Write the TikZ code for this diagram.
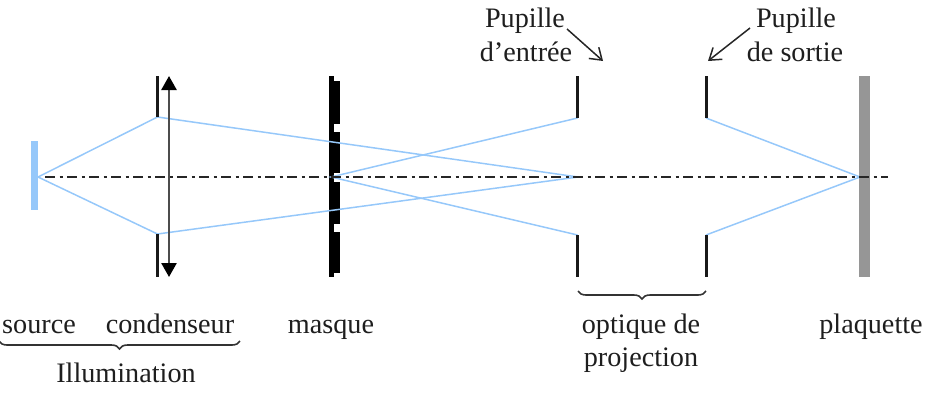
\documentclass[tikz,border=0pt]{standalone}
\usepackage{fontspec}
\setmainfont{Liberation Serif}
\usetikzlibrary{arrows.meta,decorations.pathreplacing}
\definecolor{raycol}{RGB}{150,200,250}
\definecolor{txtcol}{RGB}{30,30,30}
\definecolor{platecol}{RGB}{150,150,150}
\tikzset{
  lbl/.style={inner sep=0pt,font=\fontsize{28.2}{30}\selectfont,text=txtcol,anchor=base},
  ray/.style={raycol,line width=1.5pt},
  stopbar/.style={line width=3pt,black!90},
  axisline/.style={line width=1.8pt,black!85,dash pattern=on 10pt off 4.5pt on 3pt off 4.5pt},
  callout/.style={line width=1.5pt,black!85,-{Straight Barb[length=11pt,width=15pt,line width=1.5pt]}},
  lenstip/.tip={Triangle[length=14pt,width=15pt,color=black]},
  lensarrow/.style={line width=2.6pt,black!70,lenstip-lenstip},
  bracedn/.style={line width=1.6pt,black!80,decorate,decoration={brace,mirror,amplitude=8pt}}
}
\begin{document}
\begin{tikzpicture}[x=1pt,y=-1pt]
\useasboundingbox (0,0) rectangle (933,400);
% named coordinates
\coordinate (srcC) at (38,177);
\coordinate (axA) at (45,177);
\coordinate (axB) at (888,177);
\coordinate (condT) at (157.5,117);
\coordinate (condB) at (157.5,234);
\coordinate (condTT) at (157.5,76);
\coordinate (condBB) at (157.5,277);
\coordinate (lensT) at (169,76);
\coordinate (lensB) at (169,277);
\coordinate (maskC) at (331,177);
\coordinate (focus) at (578,177);
\coordinate (pinT) at (577.5,118);
\coordinate (pinB) at (577.5,235);
\coordinate (pinTT) at (577.5,76);
\coordinate (pinBB) at (577.5,277);
\coordinate (poutT) at (706,118);
\coordinate (poutB) at (706,235);
\coordinate (poutTT) at (706,76);
\coordinate (poutBB) at (706,277);
\coordinate (wafC) at (860,177);
\coordinate (c1a) at (567,29);
\coordinate (c1b) at (603,61);
\coordinate (c2a) at (750,28);
\coordinate (c2b) at (708,61);
\coordinate (brA) at (578,291);
\coordinate (brB) at (706,291);
\coordinate (brC) at (-1,341);
\coordinate (brD) at (240,341);
% source, wafer
\fill[raycol] (31,141) rectangle (38,210);
\fill[platecol] (859,76) rectangle (870,277);
% mask
\fill[black] (328.5,76) rectangle (334,277);
\fill[black] (334,81) rectangle (340,124);
\fill[black] (334,132) rectangle (340,173);
\fill[black] (334,182) rectangle (340,224);
\fill[black] (334,232) rectangle (340,273);
% rays
\draw[ray] (srcC) -- (condT) -- (focus);
\draw[ray] (srcC) -- (condB) -- (focus);
\draw[ray] (pinT) -- (maskC) -- (pinB);
\draw[ray] (poutT) -- (wafC) -- (poutB);
% axis
\draw[axisline] (axA) -- (axB);
% stops
\draw[stopbar] (condTT) -- (condT);
\draw[stopbar] (condB) -- (condBB);
\draw[stopbar] (pinTT) -- (pinT);
\draw[stopbar] (pinB) -- (pinBB);
\draw[stopbar] (poutTT) -- (poutT);
\draw[stopbar] (poutB) -- (poutBB);
% lens
\draw[lensarrow] (lensT) -- (lensB);
% callouts
\draw[callout] (c1a) -- (c1b);
\draw[callout] (c2a) -- (c2b);
% braces
\draw[bracedn] (brA) -- (brB);
\draw[bracedn] (brC) -- (brD);
% labels
\node[lbl] (t1) at (525,27) {Pupille};
\node[lbl] (t2) at (526,61) {d’entrée};
\node[lbl] (t3) at (796,27) {Pupille};
\node[lbl] (t4) at (795,61) {de sortie};
\node[lbl] (t5) at (39,333) {source};
\node[lbl] (t6) at (170,333) {condenseur};
\node[lbl] (t7) at (331,333) {masque};
\node[lbl] (t8) at (641,333) {optique de};
\node[lbl] (t9) at (641,366) {projection};
\node[lbl] (t10) at (871,333) {plaquette};
\node[lbl] (t11) at (126,382) {Illumination};
\end{tikzpicture}
\end{document}
